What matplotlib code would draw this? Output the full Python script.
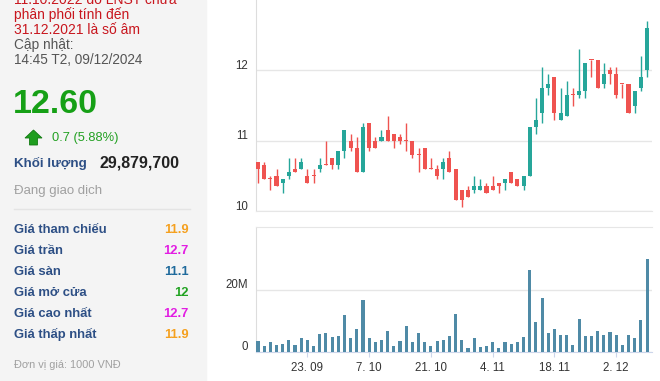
import matplotlib
matplotlib.use("Agg")
import matplotlib.pyplot as plt
import matplotlib.transforms as mtransforms
from matplotlib.patches import Rectangle, Polygon
import numpy as np
import pandas as pd

plt.rcParams['font.family'] = ['Liberation Sans', 'DejaVu Sans']

# trading days 11.09.2024 - 09.12.2024
dates = pd.bdate_range("2024-09-11", "2024-12-09")

opens = [10.7, 10.65, 10.45, 10.5, 10.4, 10.5, 10.6, 10.6, 10.5, 10.5,
         10.6, 10.65, 10.75, 10.65, 10.85, 11.0, 10.9, 10.55, 11.25, 11.0,
         11.0, 11.15, 11.1, 11.05, 11.0, 11.0, 10.8, 10.9, 10.6, 10.6,
         10.6, 10.75, 10.6, 10.3, 10.3, 10.3, 10.3, 10.35, 10.35, 10.4,
         10.4, 10.55, 10.45, 10.35, 10.5, 11.2, 11.4, 11.75, 11.9, 11.3,
         11.35, 11.65, 11.65, 11.7, 12.15, 12.15, 11.8, 12.0, 11.95, 11.8,
         11.8, 11.5, 11.75, 12.0]
highs = [10.7, 10.7, 10.5, 10.6, 10.45, 10.75, 10.75, 10.75, 10.6, 10.6,
         10.75, 11.0, 10.75, 10.85, 11.15, 11.1, 11.05, 11.25, 11.25, 11.05,
         11.15, 11.35, 11.1, 11.1, 11.25, 11.0, 10.9, 10.9, 10.75, 10.65,
         10.75, 10.85, 10.6, 10.3, 10.35, 10.5, 10.45, 10.4, 10.5, 10.4,
         10.45, 10.55, 10.45, 10.5, 11.2, 11.6, 12.05, 11.95, 11.9, 11.75,
         11.85, 11.75, 12.3, 12.1, 12.15, 12.15, 12.1, 12.05, 12.05, 11.8,
         11.8, 11.7, 12.2, 12.7]
lows = [10.4, 10.45, 10.3, 10.35, 10.25, 10.45, 10.55, 10.6, 10.4, 10.4,
        10.55, 10.65, 10.6, 10.6, 10.75, 10.85, 10.55, 10.55, 10.85, 10.9,
        11.0, 11.0, 10.9, 10.95, 10.85, 10.75, 10.55, 10.6, 10.6, 10.45,
        10.45, 10.55, 10.15, 10.05, 10.2, 10.25, 10.3, 10.25, 10.3, 10.25,
        10.3, 10.4, 10.35, 10.3, 10.5, 11.1, 11.25, 11.65, 11.3, 11.3,
        11.35, 11.5, 11.6, 11.6, 11.9, 11.75, 11.75, 11.8, 11.6, 11.6,
        11.4, 11.4, 11.7, 11.9]
closes = [10.6, 10.45, 10.45, 10.35, 10.45, 10.55, 10.55, 10.7, 10.4, 10.5,
          10.65, 10.65, 10.65, 10.85, 11.15, 10.9, 10.55, 11.2, 10.9, 10.9,
          11.05, 11.0, 11.0, 11.0, 11.0, 10.8, 10.8, 10.6, 10.6, 10.5,
          10.7, 10.55, 10.15, 10.15, 10.2, 10.35, 10.35, 10.25, 10.3, 10.35,
          10.45, 10.4, 10.35, 10.5, 11.2, 11.3, 11.75, 11.8, 11.4, 11.4,
          11.65, 11.65, 11.7, 12.1, 12.15, 11.75, 11.95, 11.95, 11.65, 11.8,
          11.4, 11.7, 11.9, 12.6]
# volume, millions of shares
volumes = [3.6, 1.9, 3.2, 2.3, 2.6, 3.9, 2.3, 4.5, 3.9, 1.9,
           5.8, 6.2, 4.9, 5.2, 11.8, 4.5, 7.5, 16.9, 4.5, 3.2,
           3.9, 6.8, 1.9, 3.6, 8.4, 3.2, 6.2, 3.2, 1.9, 3.6,
           3.9, 5.2, 12.3, 3.9, 1.3, 4.5, 1.6, 1.9, 3.2, 1.3,
           3.2, 2.6, 3.2, 4.9, 26.3, 9.7, 17.5, 6.2, 7.5, 5.5,
           5.5, 2.3, 10.7, 5.2, 5.2, 6.8, 5.5, 6.5, 5.5, 2.3,
           5.5, 4.5, 10.4, 29.8797]
tick_dates = ["2024-09-23", "2024-10-07", "2024-10-21", "2024-11-04", "2024-11-18", "2024-12-02"]

info_rows = [("Giá tham chiếu", "11.9", "#f5a01e"),
             ("Giá trần", "12.7", "#e21ee2"),
             ("Giá sàn", "11.1", "#1f6a9c"),
             ("Giá mở cửa", "12", "#22a322"),
             ("Giá cao nhất", "12.7", "#e21ee2"),
             ("Giá thấp nhất", "11.9", "#f5a01e")]

W, H = 660, 381
fig = plt.figure(figsize=(6.6, 3.81), dpi=100)


def px(x, y):
    return x / W, 1 - y / H


# left info panel
fig.patches.append(Rectangle((0, 0), 206 / W, 1, transform=fig.transFigure,
                             color="#f4f4f4", zorder=0))

red = "#c8161e"
fig.text(*px(14, 4), "11.10.2022 do LNST chưa", color=red, fontsize=10)
fig.text(*px(14, 19), "phân phối tính đến", color=red, fontsize=10)
fig.text(*px(14, 34), "31.12.2021 là số âm", color=red, fontsize=10)
fig.text(*px(14, 49), "Cập nhật:", color="#555555", fontsize=9.8)
fig.text(*px(14, 64), "14:45 T2, 09/12/2024", color="#555555", fontsize=9.8)
fig.text(*px(13, 113), "12.60", color="#16a016", fontsize=24.5, weight="bold")

arrow = [(25, 138), (33.5, 130), (42, 138), (37.5, 138), (37.5, 145),
         (29.5, 145), (29.5, 138)]
fig.patches.append(Polygon([px(a, b) for a, b in arrow], closed=True,
                           transform=fig.transFigure, facecolor="#1f9e1f",
                           edgecolor="#137a13", lw=0.6))
fig.text(*px(52, 141), "0.7 (5.88%)", color="#22a022", fontsize=9.3)

fig.text(*px(14, 167), "Khối lượng", color="#2d4f85", fontsize=9.6, weight="bold")
fig.text(*px(100, 167), "29,879,700", color="#222222", fontsize=11.5, weight="bold")
fig.text(*px(14, 194), "Đang giao dịch", color="#a0a0a0", fontsize=9.5)
fig.add_artist(plt.Line2D([14 / W, 190 / W], [1 - 209 / H, 1 - 209 / H],
                          color="#e4e4e4", lw=1))
for i, (lab, val, col) in enumerate(info_rows):
    yb = 233 + 21 * i
    fig.text(*px(14, yb), lab, color="#2d4f85", fontsize=9.4, weight="bold")
    fig.text(*px(189, yb), val, color=col, fontsize=9.4, weight="bold", ha="right")
fig.text(*px(14, 368), "Đơn vị giá: 1000 VNĐ", color="#a0a0a0", fontsize=7.9)

# charts
ax1 = fig.add_axes([256 / W, 1 - 211 / H, 396 / W, 211 / H])
ax2 = fig.add_axes([256 / W, 1 - 352 / H, 396 / W, 125 / H])

x = np.arange(len(dates))
o = np.array(opens)
c = np.array(closes)
up = c > o
colors = np.where(up, "#26a69a", "#ef5350")

ax1.vlines(x, lows, highs, colors=colors, lw=1, zorder=2)
body_h = np.maximum(np.abs(c - o), 0.014)
ax1.bar(x, body_h, bottom=np.minimum(o, c), width=0.66, color=colors, zorder=3)

ax2.bar(x, np.array(volumes) * 1e6, width=0.5, color="#4f8aa6", zorder=3)

grid_c = "#e6e6e6"
for ax in (ax1, ax2):
    ax.set_xlim(-0.32, 63.8)
    ax.set_facecolor("white")
    ax.grid(axis="y", color=grid_c, lw=1, zorder=0)
    for s in ("top", "right"):
        ax.spines[s].set_visible(False)
    ax.spines["left"].set_color("#dddddd")
    ax.tick_params(axis="y", length=0, pad=6, labelsize=8.3, labelcolor="#333333")

ax1.set_ylim(10, 13.0)
ax1.set_yticks([10, 11, 12])
ax1.set_yticklabels(["10", "11", "12"])
ax1.spines["bottom"].set_color(grid_c)
ax1.set_xticks([])

ax2.set_ylim(0, 40.3e6)
ax2.set_yticks([0, 20e6])
ax2.set_yticklabels(["0", "20M"])
ax2.spines["top"].set_visible(True)
ax2.spines["top"].set_color(grid_c)
ax2.spines["bottom"].set_color("#ccd6eb")

tick_pos = [dates.get_loc(pd.Timestamp(d)) for d in tick_dates]
tick_lab = ["%d. %s" % (pd.Timestamp(d).day, pd.Timestamp(d).strftime("%m")) for d in tick_dates]
ax2.set_xticks(tick_pos)
ax2.set_xticklabels(tick_lab)
ax2.tick_params(axis="x", length=3.6, color="#ccd6eb", pad=3.5, labelsize=8.3,
                labelcolor="#333333")

shift = mtransforms.ScaledTranslation(0, 6 / 100, fig.dpi_scale_trans)
for ax in (ax1, ax2):
    for lab in ax.get_yticklabels():
        lab.set_transform(lab.get_transform() + shift)

fig.savefig("out.png", dpi=100)
